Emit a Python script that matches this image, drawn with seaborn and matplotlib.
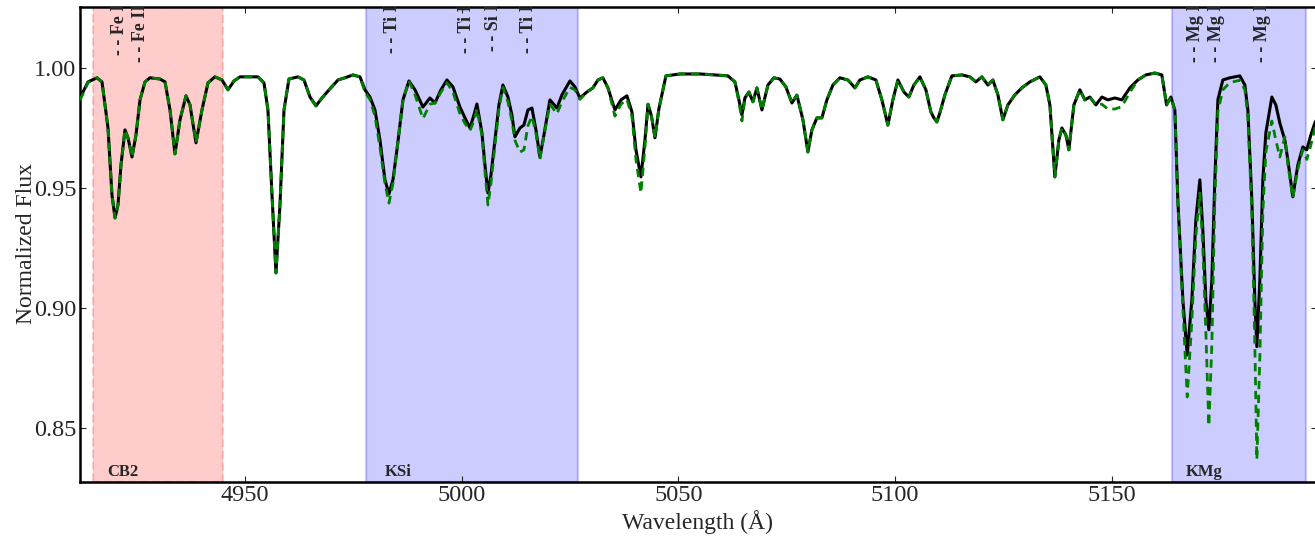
import numpy as np
import pandas as pd
import matplotlib
matplotlib.use("Agg")
import matplotlib.pyplot as plt
import seaborn as sns

# Wavelength grid (Angstrom) and normalized flux of the observed and model spectra
wavelength = [
    4911.9, 4913.75, 4915.82, 4916.98, 4918.36, 4919.28, 4919.98, 4920.67, 4921.36, 4922.28,
    4922.98, 4923.90, 4924.82, 4925.75, 4926.90, 4928.05, 4930.36, 4931.52, 4932.67, 4933.82,
    4934.98, 4936.36, 4937.29, 4938.67, 4940.05, 4941.44, 4943.05, 4944.67, 4946.05, 4947.44,
    4948.82, 4951.13, 4952.98, 4954.36, 4955.28, 4956.21, 4957.13, 4958.05, 4958.98, 4960.13,
    4962.21, 4963.59, 4964.98, 4966.36, 4967.75, 4969.59, 4971.44, 4973.05, 4974.90, 4976.52,
    4977.67, 4978.82, 4979.98, 4981.13, 4982.28, 4983.21, 4984.13, 4985.05, 4986.44, 4987.82,
    4989.21, 4991.05, 4992.67, 4993.82, 4995.21, 4996.59, 4997.98, 4999.59, 5000.75, 5001.90,
    5002.82, 5003.51, 5004.67, 5005.36, 5006.05, 5006.75, 5007.67, 5008.59, 5009.51, 5010.67,
    5011.59, 5012.28, 5013.44, 5014.36, 5015.28, 5016.21, 5017.13, 5018.05, 5018.98, 5020.36,
    5021.98, 5023.13, 5024.98, 5026.13, 5027.28, 5028.90, 5030.28, 5031.44, 5032.59, 5033.75,
    5035.36, 5036.75, 5038.13, 5039.29, 5040.21, 5041.36, 5042.29, 5043.00, 5043.80, 5044.60,
    5045.50, 5047.13, 5050.36, 5054.98, 5058.44, 5061.44, 5063.05, 5063.98, 5064.67, 5065.36,
    5066.29, 5067.21, 5068.13, 5069.29, 5070.67, 5072.05, 5073.44, 5074.82, 5076.21, 5077.36,
    5078.75, 5079.90, 5080.82, 5081.98, 5083.13, 5084.28, 5085.67, 5087.28, 5089.13, 5090.75,
    5091.90, 5093.75, 5095.59, 5096.98, 5098.36, 5099.51, 5100.67, 5102.05, 5103.21, 5104.36,
    5105.75, 5107.13, 5108.28, 5108.98, 5109.67, 5110.36, 5111.52, 5113.13, 5115.44, 5117.29,
    5118.67, 5120.05, 5121.44, 5122.59, 5123.75, 5124.90, 5126.05, 5127.67, 5129.28, 5131.13,
    5133.44, 5134.82, 5135.75, 5136.90, 5137.82, 5138.52, 5139.44, 5140.13, 5141.29, 5142.67,
    5143.82, 5144.98, 5146.36, 5147.75, 5149.13, 5150.75, 5152.36, 5154.21, 5156.05, 5157.90,
    5159.98, 5161.59, 5162.68, 5163.67, 5164.59, 5165.28, 5166.44, 5167.45, 5168.52, 5169.44,
    5170.36, 5171.05, 5171.75, 5172.44, 5173.13, 5173.82, 5174.52, 5175.67, 5177.28, 5179.59,
    5180.75, 5181.44, 5182.36, 5183.05, 5183.52, 5184.21, 5184.90, 5185.59, 5186.98, 5187.90,
    5188.82, 5189.98, 5190.67, 5191.82, 5192.98, 5194.13, 5195.05, 5195.98, 5196.90, 5197.40,
]

flux_observed = [
    0.9876, 0.9943, 0.9960, 0.9943, 0.9751, 0.9472, 0.9376, 0.9430, 0.9597, 0.9743,
    0.9710, 0.9630, 0.9722, 0.9868, 0.9943, 0.9960, 0.9955, 0.9943, 0.9826, 0.9643,
    0.9785, 0.9885, 0.9847, 0.9689, 0.9826, 0.9939, 0.9964, 0.9951, 0.9910, 0.9947,
    0.9964, 0.9964, 0.9964, 0.9939, 0.9826, 0.9472, 0.9147, 0.9430, 0.9826, 0.9955,
    0.9964, 0.9951, 0.9880, 0.9843, 0.9876, 0.9914, 0.9951, 0.9960, 0.9972, 0.9964,
    0.9910, 0.9880, 0.9826, 0.9701, 0.9535, 0.9476, 0.9535, 0.9660, 0.9868, 0.9947,
    0.9910, 0.9838, 0.9876, 0.9855, 0.9910, 0.9951, 0.9922, 0.9838, 0.9793, 0.9751,
    0.9805, 0.9851, 0.9730, 0.9597, 0.9480, 0.9555, 0.9701, 0.9847, 0.9930, 0.9880,
    0.9805, 0.9714, 0.9751, 0.9763, 0.9826, 0.9834, 0.9743, 0.9630, 0.9722, 0.9868,
    0.9834, 0.9889, 0.9947, 0.9922, 0.9876, 0.9901, 0.9918, 0.9951, 0.9960, 0.9918,
    0.9826, 0.9868, 0.9885, 0.9818, 0.9660, 0.9547, 0.9701, 0.9850, 0.9800, 0.9710,
    0.9830, 0.9968, 0.9976, 0.9976, 0.9972, 0.9968, 0.9943, 0.9868, 0.9805, 0.9876,
    0.9901, 0.9860, 0.9918, 0.9826, 0.9930, 0.9960, 0.9955, 0.9922, 0.9855, 0.9888,
    0.9785, 0.9651, 0.9743, 0.9793, 0.9793, 0.9868, 0.9930, 0.9960, 0.9951, 0.9918,
    0.9951, 0.9964, 0.9951, 0.9868, 0.9763, 0.9868, 0.9951, 0.9901, 0.9880, 0.9930,
    0.9964, 0.9910, 0.9818, 0.9793, 0.9776, 0.9814, 0.9889, 0.9968, 0.9972, 0.9964,
    0.9943, 0.9964, 0.9930, 0.9951, 0.9889, 0.9785, 0.9847, 0.9889, 0.9918, 0.9943,
    0.9964, 0.9930, 0.9847, 0.9547, 0.9701, 0.9751, 0.9722, 0.9660, 0.9847, 0.9910,
    0.9868, 0.9880, 0.9847, 0.9880, 0.9868, 0.9876, 0.9868, 0.9918, 0.9951, 0.9972,
    0.9980, 0.9972, 0.9847, 0.9880, 0.9826, 0.9451, 0.9035, 0.8805, 0.9035, 0.9368,
    0.9535, 0.9326, 0.9035, 0.8910, 0.9118, 0.9535, 0.9868, 0.9951, 0.9960, 0.9968,
    0.9930, 0.9826, 0.9451, 0.9035, 0.8840, 0.9118, 0.9535, 0.9730, 0.9880, 0.9847,
    0.9772, 0.9700, 0.9618, 0.9464, 0.9597, 0.9672, 0.9660, 0.9722, 0.9772, 0.9790,
]

flux_model = [
    0.9866, 0.9940, 0.9960, 0.9943, 0.9751, 0.9472, 0.9376, 0.9430, 0.9597, 0.9743,
    0.9710, 0.9630, 0.9722, 0.9868, 0.9943, 0.9960, 0.9955, 0.9943, 0.9826, 0.9643,
    0.9785, 0.9885, 0.9847, 0.9689, 0.9826, 0.9939, 0.9964, 0.9951, 0.9910, 0.9947,
    0.9964, 0.9964, 0.9964, 0.9939, 0.9826, 0.9472, 0.9147, 0.9430, 0.9826, 0.9955,
    0.9964, 0.9951, 0.9880, 0.9843, 0.9876, 0.9914, 0.9951, 0.9960, 0.9972, 0.9964,
    0.9900, 0.9870, 0.9800, 0.9670, 0.9520, 0.9438, 0.9520, 0.9660, 0.9868, 0.9947,
    0.9890, 0.9790, 0.9850, 0.9855, 0.9900, 0.9940, 0.9900, 0.9810, 0.9770, 0.9740,
    0.9780, 0.9830, 0.9720, 0.9570, 0.9430, 0.9520, 0.9680, 0.9830, 0.9920, 0.9860,
    0.9780, 0.9700, 0.9650, 0.9660, 0.9760, 0.9800, 0.9730, 0.9620, 0.9720, 0.9850,
    0.9810, 0.9860, 0.9920, 0.9910, 0.9870, 0.9901, 0.9918, 0.9951, 0.9960, 0.9918,
    0.9800, 0.9850, 0.9870, 0.9800, 0.9620, 0.9480, 0.9670, 0.9850, 0.9800, 0.9710,
    0.9830, 0.9968, 0.9976, 0.9976, 0.9972, 0.9968, 0.9943, 0.9860, 0.9780, 0.9870,
    0.9901, 0.9860, 0.9918, 0.9826, 0.9930, 0.9960, 0.9955, 0.9922, 0.9855, 0.9888,
    0.9785, 0.9651, 0.9743, 0.9793, 0.9793, 0.9868, 0.9930, 0.9960, 0.9951, 0.9918,
    0.9951, 0.9964, 0.9951, 0.9868, 0.9763, 0.9868, 0.9951, 0.9901, 0.9880, 0.9930,
    0.9964, 0.9910, 0.9818, 0.9793, 0.9776, 0.9814, 0.9889, 0.9968, 0.9972, 0.9964,
    0.9943, 0.9964, 0.9930, 0.9951, 0.9889, 0.9785, 0.9847, 0.9889, 0.9918, 0.9943,
    0.9964, 0.9930, 0.9847, 0.9547, 0.9701, 0.9751, 0.9722, 0.9660, 0.9847, 0.9910,
    0.9868, 0.9880, 0.9847, 0.9850, 0.9830, 0.9830, 0.9840, 0.9900, 0.9951, 0.9972,
    0.9980, 0.9972, 0.9847, 0.9880, 0.9826, 0.9440, 0.9000, 0.8630, 0.8950, 0.9300,
    0.9480, 0.9250, 0.8900, 0.8510, 0.8850, 0.9450, 0.9820, 0.9910, 0.9940, 0.9950,
    0.9910, 0.9800, 0.9400, 0.8850, 0.8370, 0.8800, 0.9400, 0.9650, 0.9780, 0.9700,
    0.9630, 0.9714, 0.9600, 0.9460, 0.9580, 0.9660, 0.9620, 0.9680, 0.9750, 0.9770,
]

# Analysis windows (start, end, label) and their colours
band_starts = [4915.0, 4977.9, 5163.9]
band_ends = [4944.9, 5026.8, 5194.8]
band_names = ["CB2", "KSi", "KMg"]
band_colors = ["red", "blue", "blue"]
band_styles = ["--", "-", "-"]
band_label_x = [4918.1, 4982.3, 5167.1]

# Identified absorption lines
line_wavelengths = [4921.1, 4925.75, 4984.1, 5001.2, 5007.4, 5015.3, 5169.45, 5174.3, 5184.9]
line_names = ["Fe I", "Fe II", "Ti I", "Ti I", "Si I", "Ti I", "Mg I", "Mg I", "Mg I"]

x_ticks = [4950, 5000, 5050, 5100, 5150]
y_ticks = [0.85, 0.90, 0.95, 1.00]

df = pd.DataFrame({"wavelength": wavelength,
                   "observed": flux_observed,
                   "model": flux_model})

sns.set_style("ticks", {"xtick.direction": "in", "ytick.direction": "in"})
plt.rcParams["font.family"] = ["Liberation Serif", "DejaVu Serif"]

fig = plt.figure(figsize=(13.15, 5.38), dpi=100)
ax = fig.add_axes([80 / 1315, 56 / 538, (1317 - 80) / 1315, (482 - 7) / 538])

for x0, x1, c, ls in zip(band_starts, band_ends, band_colors, band_styles):
    ax.axvspan(x0, x1, facecolor=c, edgecolor=c, alpha=0.2, lw=1.6, ls=ls, zorder=0)

sns.lineplot(data=df, x="wavelength", y="observed", ax=ax, color="black",
             lw=2.2, sort=False, estimator=None, zorder=3)
sns.lineplot(data=df, x="wavelength", y="model", ax=ax, color="green",
             lw=2.0, sort=False, estimator=None, zorder=4)
ax.lines[-1].set_linestyle((0, (3.0, 2.0)))

ax.set_xlim(4911.9, 5197.4)
ax.set_ylim(0.8276, 1.0255)
ax.set_xticks(x_ticks)
ax.set_yticks(y_ticks)
ax.set_yticklabels([f"{v:.2f}" for v in y_ticks])
ax.tick_params(axis="both", which="major", length=4, width=0.8, labelsize=17.5,
               top=True, right=True, pad=2.5)

for s in ax.spines.values():
    s.set_linewidth(1.8)
    s.set_color("black")

for x, name in zip(line_wavelengths, line_names):
    ax.text(x, 1.0267, "- - " + name, rotation=90, ha="center", va="top",
            fontsize=13, fontweight="bold", clip_on=True, zorder=5)

for x, name in zip(band_label_x, band_names):
    ax.text(x, 0.8318, name, ha="left", va="center", fontsize=12,
            fontweight="bold", zorder=5)

ax.set_xlabel("Wavelength (Å)", fontsize=17)
ax.set_ylabel("Normalized Flux", fontsize=17)
ax.xaxis.set_label_coords((697 - 80) / 1237, (482 - 510) / 475)
ax.yaxis.set_label_coords((37 - 80) / 1237, (482 - 244) / 475)

fig.savefig("out.png", dpi=100)
